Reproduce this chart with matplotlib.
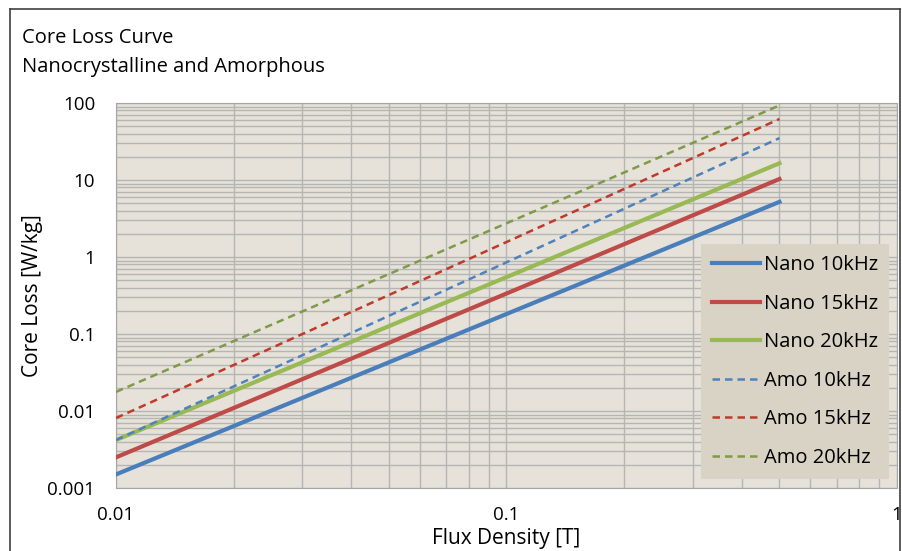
import matplotlib.pyplot as plt
from matplotlib.lines import Line2D
from matplotlib.ticker import FixedLocator, LogLocator, NullFormatter

plt.rcParams['font.family'] = ['Open Sans', 'DejaVu Sans']

# flux density [T] at the two ends of each curve
flux = [0.01, 0.5]

# core loss [W/kg]
nano_10k = [0.0015, 5.2]
nano_15k = [0.0025, 10.3]
nano_20k = [0.0042, 16.5]
amo_10k = [0.0042, 35]
amo_15k = [0.0081, 62]
amo_20k = [0.0177, 93]

labels = ['Nano 10kHz', 'Nano 15kHz', 'Nano 20kHz', 'Amo 10kHz', 'Amo 15kHz', 'Amo 20kHz']
series = [nano_10k, nano_15k, nano_20k, amo_10k, amo_15k, amo_20k]
colors = ['#4A7EBB', '#BE4B48', '#98B954', '#4F81BD', '#C0392B', '#7F9A48']
styles = ['-', '-', '-', '--', '--', '--']
widths = [3.0, 3.0, 3.0, 1.8, 1.8, 1.8]

fig = plt.figure(figsize=(9.03, 5.51), dpi=100)
ax = fig.add_axes([116 / 903, 1 - 488 / 551, 781 / 903, 385 / 551])
ax.set_facecolor('#E6E2D9')

for y, lab, c, ls, lw in zip(series, labels, colors, styles, widths):
    ax.plot(flux, y, color=c, linestyle=ls, linewidth=lw, label=lab,
            dashes=(3, 2) if ls == '--' else (None, None), zorder=3)

ax.set_xscale('log')
ax.set_yscale('log')
ax.set_xlim(0.01, 1)
ax.set_ylim(0.001, 100)

ax.xaxis.set_major_locator(FixedLocator([0.01, 0.1, 1]))
ax.yaxis.set_major_locator(FixedLocator([0.001, 0.01, 0.1, 1, 10, 100]))
ax.set_xticklabels(['0.01', '0.1', '1'])
ax.set_yticklabels(['0.001', '0.01', '0.1', '1', '10', '100'])
ax.xaxis.set_minor_locator(LogLocator(base=10, subs=range(2, 10)))
ax.yaxis.set_minor_locator(LogLocator(base=10, subs=range(2, 10)))
ax.xaxis.set_minor_formatter(NullFormatter())
ax.yaxis.set_minor_formatter(NullFormatter())

ax.grid(which='both', color='#B5B5B5', linewidth=1.0, zorder=0)
ax.set_axisbelow(True)
ax.tick_params(which='both', length=0, labelsize=13.5, colors='black')
ax.tick_params(axis='x', pad=13)
ax.tick_params(axis='y', pad=15)
for s in ax.spines.values():
    s.set_color('#A6A6A6')

ax.set_xlabel('Flux Density [T]', fontsize=15)
ax.set_ylabel('Core Loss [W/kg]', fontsize=15)
ax.xaxis.set_label_coords(0.5, -0.104)
ax.yaxis.set_label_coords(-0.093, 0.5)

leg = ax.legend(loc='upper right', bbox_to_anchor=(0.99, 0.633), borderaxespad=0,
                fontsize=14.5, frameon=True, fancybox=False, handlelength=2.4,
                handletextpad=0.2, labelspacing=0.92, borderpad=0.55)
leg.get_frame().set_facecolor('#D8D3C4')
leg.get_frame().set_edgecolor('none')
leg.get_frame().set_alpha(1)

fig.text(22 / 903, 1 - 38 / 551, 'Core Loss Curve', fontsize=14.5, va='center', ha='left')
fig.text(22 / 903, 1 - 67 / 551, 'Nanocrystalline and Amorphous', fontsize=14.5, va='center', ha='left')

# chart area border
fig.add_artist(Line2D([10 / 903, 10 / 903], [0, 1 - 9 / 551], transform=fig.transFigure, color='#404040', lw=1.2))
fig.add_artist(Line2D([10 / 903, 900 / 903], [1 - 9 / 551, 1 - 9 / 551], transform=fig.transFigure, color='#404040', lw=1.2))
fig.add_artist(Line2D([900 / 903, 900 / 903], [0, 1 - 9 / 551], transform=fig.transFigure, color='#404040', lw=1.2))

fig.savefig('out.png', dpi=100)
